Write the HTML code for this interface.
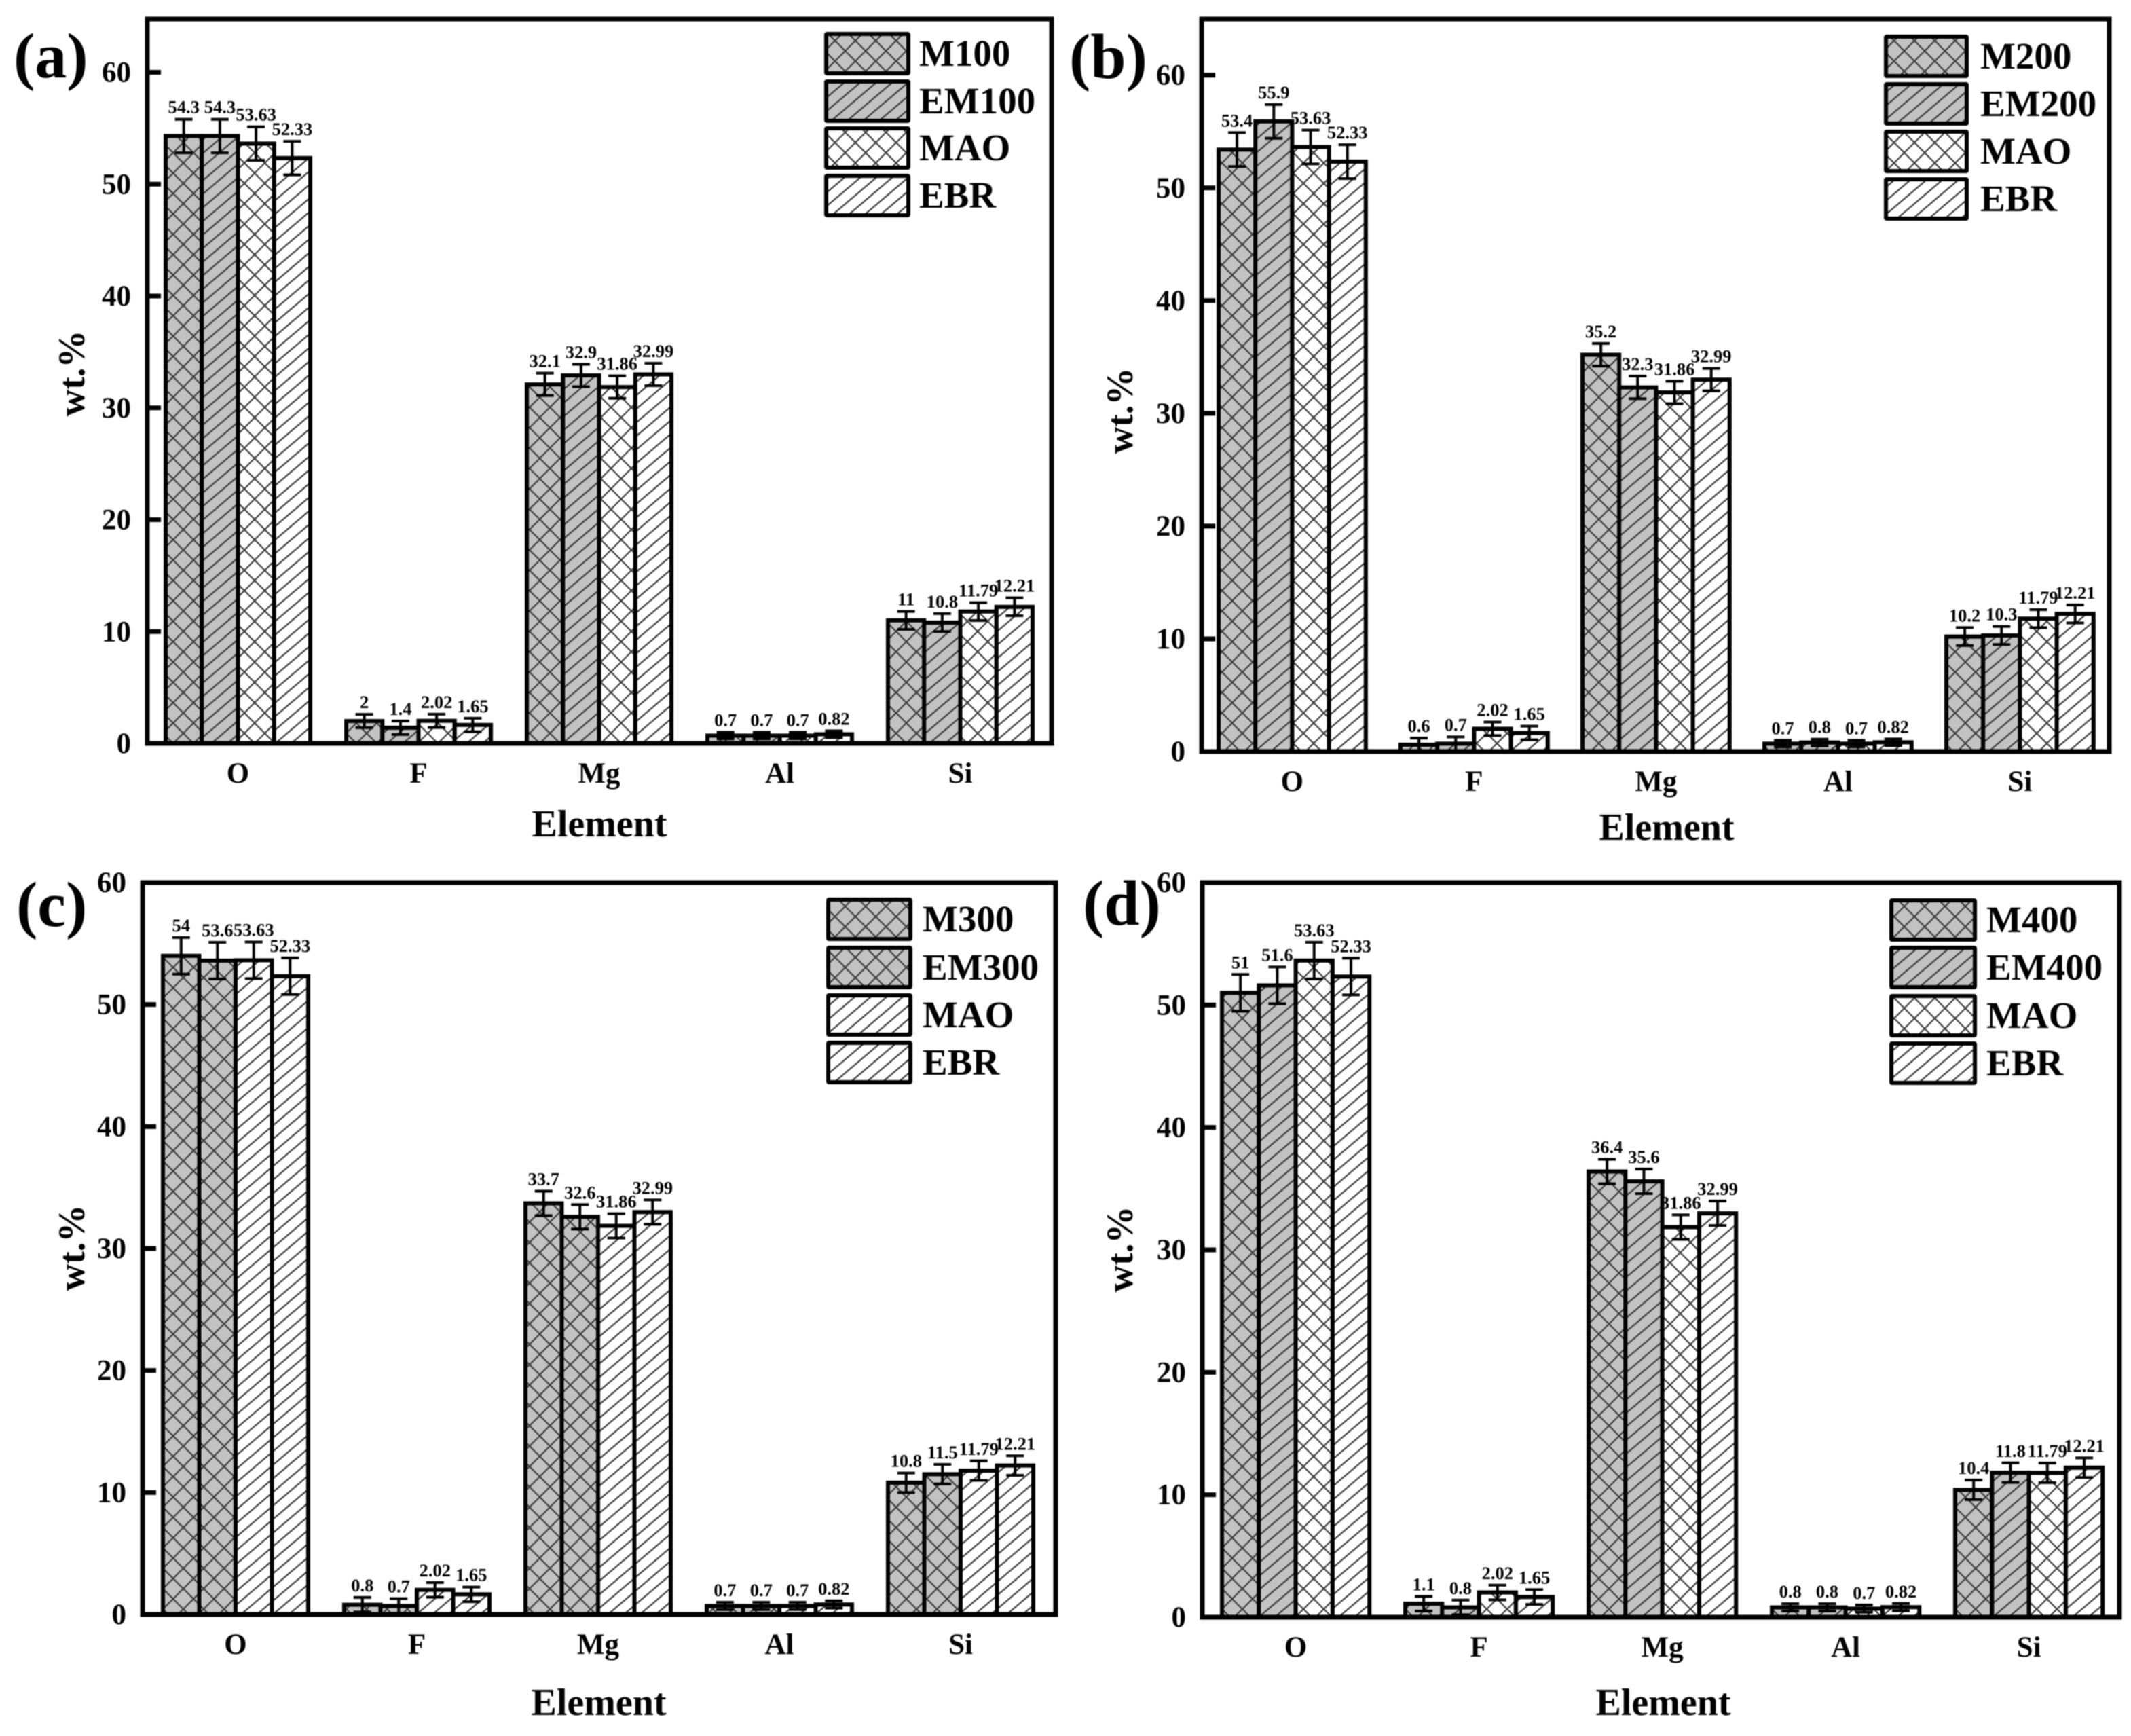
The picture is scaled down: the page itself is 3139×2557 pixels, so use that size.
<!DOCTYPE html>
<html lang="en">
<head>
<meta charset="utf-8">
<title>Element wt.% bar charts</title>
<style>
html,body{margin:0;padding:0;background:#fff;}
svg{display:block;filter:blur(0.7px);}
text{font-family:"Liberation Serif","Times New Roman",serif;font-weight:bold;fill:#000;}
</style>
</head>
<body>
<svg id="figure" xmlns="http://www.w3.org/2000/svg" width="3139" height="2557" viewBox="0 0 3139 2557">
<defs>
<pattern id="cross-grey" patternUnits="userSpaceOnUse" width="30" height="30">
<rect width="30" height="30" fill="#c2c2c2"/>
<path d="M0 0L30 30M0 30L30 0" stroke="#3a3a3a" stroke-width="2.2"/>
</pattern>
<pattern id="cross-white" patternUnits="userSpaceOnUse" width="30" height="30">
<rect width="30" height="30" fill="#fff"/>
<path d="M0 0L30 30M0 30L30 0" stroke="#3a3a3a" stroke-width="2.2"/>
</pattern>
<pattern id="slash-grey" patternUnits="userSpaceOnUse" width="23.5" height="20">
<rect width="23.5" height="20" fill="#c2c2c2"/>
<path d="M-23.5 40L47 -20M-23.5 20L23.5 -20M0 20L23.5 0M0 40L47 0" stroke="#3a3a3a" stroke-width="2.2"/>
</pattern>
<pattern id="slash-white" patternUnits="userSpaceOnUse" width="23.5" height="20">
<rect width="23.5" height="20" fill="#fff"/>
<path d="M-23.5 40L47 -20M-23.5 20L23.5 -20M0 20L23.5 0M0 40L47 0" stroke="#3a3a3a" stroke-width="2.2"/>
</pattern>
</defs>
<rect width="3139" height="2557" fill="#fff"/>
</svg>
<script>
// ---- chart data ----
const categories = ["O", "F", "Mg", "Al", "Si"];
const yTickValues = [0, 10, 20, 30, 40, 50, 60];
const errorByElement = [1.5, 0.6, 1.0, 0.3, 0.8];

const seriesNamesA = ["M100", "EM100", "MAO", "EBR"];
const seriesNamesB = ["M200", "EM200", "MAO", "EBR"];
const seriesNamesC = ["M300", "EM300", "MAO", "EBR"];
const seriesNamesD = ["M400", "EM400", "MAO", "EBR"];

const m100 = [54.3, 2, 32.1, 0.7, 11];
const em100 = [54.3, 1.4, 32.9, 0.7, 10.8];
const m200 = [53.4, 0.6, 35.2, 0.7, 10.2];
const em200 = [55.9, 0.7, 32.3, 0.8, 10.3];
const m300 = [54, 0.8, 33.7, 0.7, 10.8];
const em300 = [53.6, 0.7, 32.6, 0.7, 11.5];
const m400 = [51, 1.1, 36.4, 0.8, 10.4];
const em400 = [51.6, 0.8, 35.6, 0.8, 11.8];
const mao = [53.63, 2.02, 31.86, 0.7, 11.79];
const ebr = [52.33, 1.65, 32.99, 0.82, 12.21];

// ---- panel layout (pixels, not data) ----
const panels = [
  {id:"a", letter:"(a)", names:seriesNamesA, values:[m100, em100, mao, ebr],
   fills:["cross-grey","slash-grey","cross-white","slash-white"],
   left:217, right:1549, top:28, y0:1095, y60:106.5, barStart:244, barW:53.25, step:266,
   letterX:20, letterY:114, xTitleX:883, xTitleY:1232, yTitleX:124, yTitleY:550,
   legX:1214, legW:127, legY:[47,117,186,256], legH:64, legTextX:1354},
  {id:"b", letter:"(b)", names:seriesNamesB, values:[m200, em200, mao, ebr],
   fills:["cross-grey","slash-grey","cross-white","slash-white"],
   left:1770, right:3107, top:28, y0:1107, y60:110.7, barStart:1795, barW:54.2, step:268,
   letterX:1575, letterY:115, xTitleX:2455, xTitleY:1237, yTitleX:1668, yTitleY:605,
   legX:2775, legW:125, legY:[51,121,191,261], legH:64, legTextX:2917},
  {id:"c", letter:"(c)", names:seriesNamesC, values:[m300, em300, mao, ebr],
   fills:["cross-grey","cross-grey","slash-white","slash-white"],
   left:210, right:1555, top:1300, y0:2378, y60:1300, barStart:240, barW:53.5, step:267,
   letterX:24, letterY:1364, xTitleX:882, xTitleY:2526, yTitleX:124, yTitleY:1838,
   legX:1217, legW:127, legY:[1322,1393,1463,1533], legH:64, legTextX:1359},
  {id:"d", letter:"(d)", names:seriesNamesD, values:[m400, em400, mao, ebr],
   fills:["cross-grey","slash-grey","cross-white","slash-white"],
   left:1771, right:3122, top:1300, y0:2382, y60:1300, barStart:1800, barW:54.3, step:270,
   letterX:1595, letterY:1362, xTitleX:2450, xTitleY:2526, yTitleX:1668, yTitleY:1840,
   legX:2783, legW:129, legY:[1323,1393,1464,1534], legH:64, legTextX:2926}
];

const svgNS = "http://www.w3.org/2000/svg";
const root = document.getElementById("figure");

function make(tag, attrs, parent, content) {
  const node = document.createElementNS(svgNS, tag);
  for (const k in attrs) node.setAttribute(k, attrs[k]);
  if (content !== undefined) node.textContent = content;
  parent.appendChild(node);
  return node;
}

panels.forEach(function (p) {
  const yScale = function (v) { return p.y0 - (p.y0 - p.y60) * v / 60; };
  const barX = function (c, s) { return p.barStart + c * p.step + s * p.barW; };

  const g = make("g", {}, root);
  
  

  // bars, error bars, value labels
  p.values.forEach(function (vals, s) {
    const sg = make("g", {}, g);
    
    
    vals.forEach(function (v, c) {
      const x = barX(c, s), y = yScale(v);
      const bar = make("rect", {x:x, y:y, width:p.barW, height:p.y0 - y, fill:"url(#" + p.fills[s] + ")", stroke:"#000", "stroke-width":6}, sg);
      
      
    });
  });
  p.values.forEach(function (vals, s) {
    vals.forEach(function (v, c) {
      const cx = barX(c, s) + p.barW / 2;
      const e = errorByElement[c];
      const yt = yScale(v + e), yb = yScale(v - e);
      const err = make("path", {d:"M" + (cx - 13) + " " + yt + "H" + (cx + 13) + "M" + cx + " " + yt + "V" + yb + "M" + (cx - 13) + " " + yb + "H" + (cx + 13), stroke:"#000", "stroke-width":4, fill:"none"}, g);
      
      
      const label = make("text", {x:cx, y:yt - 9, "text-anchor":"middle", "font-size":26.5}, g, String(v));
      
      
    });
  });

  // plot frame
  const frame = make("rect", {x:p.left, y:p.top, width:p.right - p.left, height:p.y0 - p.top, fill:"none", stroke:"#000", "stroke-width":7}, g);
  
  

  // y ticks
  yTickValues.forEach(function (t) {
    const y = yScale(t);
    const tick = make("line", {x1:p.left, x2:p.left + 20, y1:y, y2:y, stroke:"#000", "stroke-width":7}, g);
    
    
    const tl = make("text", {x:p.left - 24, y:y + 14, "text-anchor":"end", "font-size":43}, g, String(t));
    
    
  });

  // x category labels
  categories.forEach(function (name, c) {
    const cx = barX(c, 2);
    const cl = make("text", {x:cx, y:p.y0 + 58, "text-anchor":"middle", "font-size":43}, g, name);
    
    
  });

  // axis titles
  const xt = make("text", {x:p.xTitleX, y:p.xTitleY, "text-anchor":"middle", "font-size":56}, g, "Element");
  
  
  const yt = make("text", {x:p.yTitleX, y:p.yTitleY, "text-anchor":"middle", "font-size":55, transform:"rotate(-90 " + p.yTitleX + " " + p.yTitleY + ")"}, g, "wt.%");
  
  

  // panel letter
  const letter = make("text", {x:p.letterX, y:p.letterY, "font-size":94}, g, p.letter);
  
  

  // legend
  const lg = make("g", {}, g);
  
  
  p.names.forEach(function (name, s) {
    const sw = make("rect", {x:p.legX + 3, y:p.legY[s] + 3, width:p.legW - 6, height:p.legH - 6, fill:"url(#" + p.fills[s] + ")", stroke:"#000", "stroke-width":6, rx:1}, lg);
    
    
    const lt = make("text", {x:p.legTextX, y:p.legY[s] + 50, "font-size":55}, lg, name);
    
    
  });
});
</script>
</body>
</html>
